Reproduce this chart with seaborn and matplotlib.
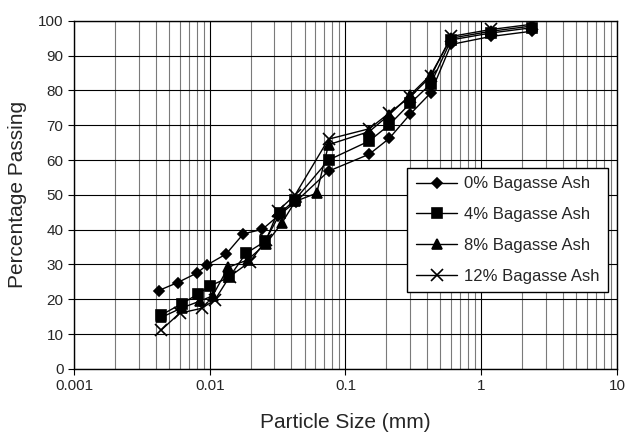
import numpy as np
import pandas as pd
import matplotlib
matplotlib.use("Agg")
import matplotlib.pyplot as plt
import seaborn as sns

# particle size (mm) and percentage passing
SIZE_0 = [0.0042, 0.0058, 0.0081, 0.0095, 0.0132, 0.0177, 0.0244, 0.032, 0.043,
          0.075, 0.15, 0.21, 0.3, 0.425, 0.6, 1.18, 2.36]
PASS_0 = [22.5, 24.8, 27.6, 29.8, 33.0, 38.8, 40.1, 44.0, 48.0,
          56.8, 61.7, 66.2, 73.2, 79.3, 93.2, 95.5, 97.0]

SIZE_4 = [0.0044, 0.0062, 0.0082, 0.0101, 0.0139, 0.0185, 0.0255, 0.033, 0.0425,
          0.075, 0.15, 0.21, 0.3, 0.425, 0.6, 1.18, 2.36]
PASS_4 = [15.5, 18.7, 21.5, 23.9, 26.3, 33.2, 36.6, 44.7, 48.6,
          60.0, 65.5, 70.1, 76.3, 81.9, 94.5, 96.5, 98.0]

SIZE_8 = [0.0044, 0.0062, 0.0085, 0.0105, 0.0137, 0.019, 0.026, 0.034, 0.0426,
          0.0614, 0.075, 0.15, 0.21, 0.3, 0.425, 0.6, 1.18, 2.36]
PASS_8 = [14.8, 17.5, 19.5, 21.0, 29.2, 31.3, 36.0, 41.9, 48.1,
          50.5, 64.4, 68.2, 73.0, 78.7, 84.5, 95.0, 97.0, 98.5]

SIZE_12 = [0.0044, 0.006, 0.0087, 0.0109, 0.014, 0.0198, 0.026, 0.032, 0.0426,
           0.075, 0.15, 0.21, 0.3, 0.425, 0.6, 1.18, 2.36]
PASS_12 = [11.2, 16.0, 17.4, 19.8, 26.5, 30.8, 37.0, 45.5, 50.0,
           66.0, 69.0, 73.5, 78.2, 84.0, 95.5, 97.5, 99.0]

MIXES = ["0% Bagasse Ash", "4% Bagasse Ash", "8% Bagasse Ash", "12% Bagasse Ash"]
MARKERS = ["D", "s", "^", "x"]
MARKER_SIZES = [5.5, 6.5, 7.5, 8]

X_TICKS = [0.001, 0.01, 0.1, 1, 10]
X_TICK_LABELS = ["0.001", "0.01", "0.1", "1", "10"]
Y_TICKS = list(range(0, 101, 10))

sns.set_style("white")
plt.rcParams["font.family"] = ["Liberation Sans", "DejaVu Sans"]

fig, ax = plt.subplots(figsize=(6.27, 4.33), dpi=100)
fig.subplots_adjust(left=0.118, right=0.984, top=0.952, bottom=0.148)

series = zip(MIXES, [SIZE_0, SIZE_4, SIZE_8, SIZE_12],
             [PASS_0, PASS_4, PASS_8, PASS_12], MARKERS, MARKER_SIZES)
for mix, xs, ys, mk, ms in series:
    sns.lineplot(x=xs, y=ys, color="black", marker=mk, markersize=ms,
                 markeredgecolor="black", markeredgewidth=1.2,
                 linewidth=1.0, estimator=None, sort=False, label=mix, ax=ax)

ax.set_xscale("log")
ax.set_xlim(0.001, 10)
ax.set_ylim(0, 100)
ax.set_xticks(X_TICKS, X_TICK_LABELS)
ax.set_yticks(Y_TICKS)

ax.grid(which="major", axis="both", color="black", linewidth=0.8)
ax.grid(which="minor", axis="x", color="#7a7a7a", linewidth=0.8)
ax.set_axisbelow(True)
for sp in ax.spines.values():
    sp.set_color("black")
    sp.set_linewidth(1.0)

ax.tick_params(axis="both", which="major", labelsize=11, length=4,
               direction="out", color="black", bottom=True, left=True)
ax.tick_params(axis="x", which="minor", length=0)

ax.set_xlabel("Particle Size (mm)", fontsize=15, labelpad=14)
ax.set_ylabel("Percentage Passing", fontsize=15, labelpad=8)

leg = ax.legend(loc="upper left", bbox_to_anchor=(0.614, 0.577),
                fontsize=12, frameon=True, fancybox=False, framealpha=1,
                edgecolor="black", handlelength=2.5, labelspacing=0.95,
                borderpad=0.5, handletextpad=0.4, borderaxespad=0)
leg.get_frame().set_linewidth(1.0)

fig.savefig("out.png", dpi=100, facecolor="white")
